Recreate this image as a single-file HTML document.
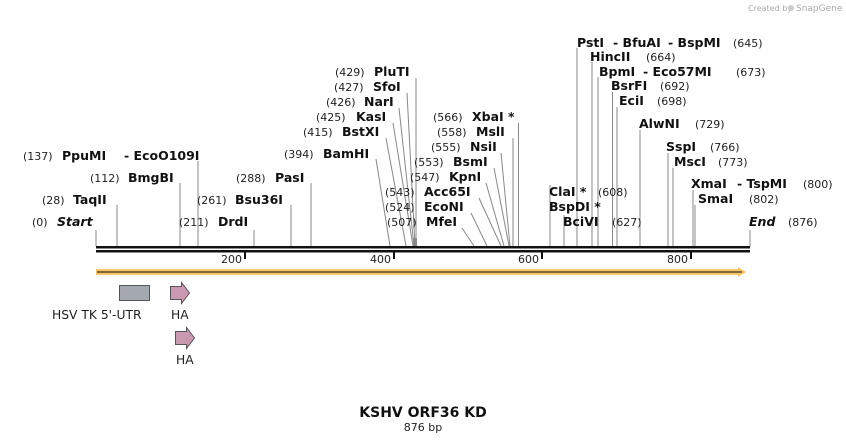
<!DOCTYPE html>
<html><head><meta charset="utf-8"><style>
html,body{margin:0;padding:0;background:#fff;}
svg{display:block;font-family:"DejaVu Sans","Liberation Sans",sans-serif;}
.n{font-size:11px;fill:#222;}
.b{font-size:12.5px;font-weight:bold;fill:#111;}
.l{stroke:#888;stroke-width:1;fill:none;}
</style></head><body>
<svg width="846" height="443" viewBox="0 0 846 443">
<text x="748" y="11" font-size="8" fill="#aaa">Created by</text>
<text x="796" y="11" font-size="9" fill="#aaa">SnapGene</text>
<circle cx="791" cy="8" r="3" fill="#ccc"/>
<g class="l">
<line x1="96" y1="230" x2="96" y2="246"/>
<line x1="117" y1="205" x2="117" y2="246"/>
<line x1="180" y1="183" x2="180" y2="246"/>
<line x1="198" y1="161" x2="198" y2="246"/>
<line x1="254" y1="230" x2="254" y2="246"/>
<line x1="291" y1="205" x2="291" y2="246"/>
<line x1="311" y1="183" x2="311" y2="246"/>
<line x1="376" y1="159" x2="390" y2="246"/>
<line x1="386" y1="138" x2="406" y2="246"/>
<line x1="393" y1="123" x2="413" y2="246"/>
<line x1="399" y1="108" x2="414" y2="246"/>
<line x1="407" y1="93" x2="415" y2="246"/>
<line x1="416" y1="78" x2="416" y2="246"/>
<line x1="462" y1="228" x2="474" y2="246"/>
<line x1="471" y1="213" x2="487" y2="246"/>
<line x1="479" y1="198" x2="501" y2="246"/>
<line x1="486" y1="183" x2="504" y2="246"/>
<line x1="494" y1="168" x2="509" y2="246"/>
<line x1="501" y1="153" x2="510" y2="246"/>
<line x1="513" y1="138" x2="513" y2="246"/>
<line x1="518.5" y1="123" x2="518.5" y2="246"/>
<line x1="550" y1="185" x2="550" y2="246"/>
<line x1="564" y1="215" x2="564" y2="246"/>
<line x1="577" y1="48" x2="577" y2="246"/>
<line x1="592" y1="62" x2="592" y2="246"/>
<line x1="598" y1="77" x2="598" y2="246"/>
<line x1="612.5" y1="92" x2="612.5" y2="246"/>
<line x1="617" y1="107" x2="617" y2="246"/>
<line x1="640" y1="130" x2="640" y2="246"/>
<line x1="668" y1="153" x2="668" y2="246"/>
<line x1="673" y1="168" x2="673" y2="246"/>
<line x1="693" y1="190" x2="693" y2="246"/>
<line x1="695" y1="205" x2="695" y2="246"/>
<line x1="750" y1="230" x2="750" y2="246"/>
</g>
<rect x="413" y="238" width="4" height="8" fill="#888"/>
<text x="32" y="226" class="n">(0)</text><text x="57" y="226" class="b" font-style="italic">Start</text>
<text x="42" y="204" class="n">(28)</text><text x="73" y="204" class="b">TaqII</text>
<text x="90" y="182" class="n">(112)</text><text x="128" y="182" class="b">BmgBI</text>
<text x="23" y="160" class="n">(137)</text><text x="62" y="160" class="b">PpuMI</text><text x="124" y="160" class="b">- EcoO109I</text>
<text x="179" y="226" class="n">(211)</text><text x="218" y="226" class="b">DrdI</text>
<text x="197" y="204" class="n">(261)</text><text x="235" y="204" class="b">Bsu36I</text>
<text x="236" y="182" class="n">(288)</text><text x="275" y="182" class="b">PasI</text>
<text x="284" y="158" class="n">(394)</text><text x="323" y="158" class="b">BamHI</text>
<text x="303" y="136" class="n">(415)</text><text x="342" y="136" class="b">BstXI</text>
<text x="316" y="121" class="n">(425)</text><text x="356" y="121" class="b">KasI</text>
<text x="326" y="106" class="n">(426)</text><text x="364" y="106" class="b">NarI</text>
<text x="334" y="91" class="n">(427)</text><text x="373" y="91" class="b">SfoI</text>
<text x="335" y="76" class="n">(429)</text><text x="374" y="76" class="b">PluTI</text>
<text x="385" y="196" class="n">(543)</text><text x="424" y="196" class="b">Acc65I</text>
<text x="385" y="211" class="n">(524)</text><text x="424" y="211" class="b">EcoNI</text>
<text x="387" y="226" class="n">(507)</text><text x="426" y="226" class="b">MfeI</text>
<text x="410" y="181" class="n">(547)</text><text x="449" y="181" class="b">KpnI</text>
<text x="414" y="166" class="n">(553)</text><text x="453" y="166" class="b">BsmI</text>
<text x="431" y="151" class="n">(555)</text><text x="470" y="151" class="b">NsiI</text>
<text x="437" y="136" class="n">(558)</text><text x="476" y="136" class="b">MslI</text>
<text x="433" y="121" class="n">(566)</text><text x="472" y="121" class="b">XbaI *</text>
<text x="549" y="196" class="b">ClaI *</text><text x="598" y="196" class="n">(608)</text>
<text x="549" y="211" class="b">BspDI *</text>
<text x="563" y="226" class="b">BciVI</text><text x="612" y="226" class="n">(627)</text>
<text x="749" y="226" class="b" font-style="italic">End</text><text x="788" y="226" class="n">(876)</text>
<text x="666" y="151" class="b">SspI</text><text x="710" y="151" class="n">(766)</text>
<text x="674" y="166" class="b">MscI</text><text x="718" y="166" class="n">(773)</text>
<text x="691" y="188" class="b">XmaI</text><text x="737" y="188" class="b">- TspMI</text><text x="803" y="188" class="n">(800)</text>
<text x="698" y="203" class="b">SmaI</text><text x="749" y="203" class="n">(802)</text>
<text x="577" y="47" class="b">PstI</text><text x="613" y="47" class="b">- BfuAI</text><text x="668" y="47" class="b">- BspMI</text><text x="733" y="47" class="n">(645)</text>
<text x="590" y="61" class="b">HincII</text><text x="646" y="61" class="n">(664)</text>
<text x="599" y="76" class="b">BpmI</text><text x="643" y="76" class="b">- Eco57MI</text><text x="736" y="76" class="n">(673)</text>
<text x="611" y="90" class="b">BsrFI</text><text x="660" y="90" class="n">(692)</text>
<text x="619" y="105" class="b">EciI</text><text x="657" y="105" class="n">(698)</text>
<text x="639" y="128" class="b">AlwNI</text><text x="695" y="128" class="n">(729)</text>
<rect x="96" y="246" width="654" height="2.5" fill="#111"/>
<rect x="96" y="250" width="654" height="2.5" fill="#111"/>
<g fill="#111">
<rect x="244" y="252" width="2" height="7"/><rect x="393" y="252" width="2" height="7"/>
<rect x="541" y="252" width="2" height="7"/><rect x="690" y="252" width="2" height="7"/>
</g>
<g class="n" text-anchor="end">
<text x="242" y="263">200</text><text x="391" y="263">400</text><text x="539" y="263">600</text><text x="688" y="263">800</text>
</g>
<polygon points="96,269 738,269 738,267 746,272 738,277 738,275 96,275" fill="#f7c56c"/>
<line x1="97" y1="272" x2="742" y2="272" stroke="#5a4a2a" stroke-width="1.5"/>
<rect x="119.5" y="285.5" width="30" height="15" fill="#a4a9b0" stroke="#555"/>
<polygon points="170.5,286.5 181.5,286.5 181.5,282.5 189.5,293 181.5,303.5 181.5,299.5 170.5,299.5" fill="#c999b2" stroke="#555"/>
<polygon points="175.5,331.5 186.5,331.5 186.5,327.5 194.5,338 186.5,348.5 186.5,344.5 175.5,344.5" fill="#c999b2" stroke="#555"/>
<g font-size="12.3" fill="#222">
<text x="52" y="319">HSV TK 5'-UTR</text>
<text x="171" y="319">HA</text>
<text x="176" y="364">HA</text>
</g>
<text x="423" y="417" text-anchor="middle" font-size="14" font-weight="bold" fill="#111">KSHV ORF36 KD</text>
<text x="423" y="431" text-anchor="middle" font-size="11" fill="#222">876 bp</text>
</svg>
</body></html>
